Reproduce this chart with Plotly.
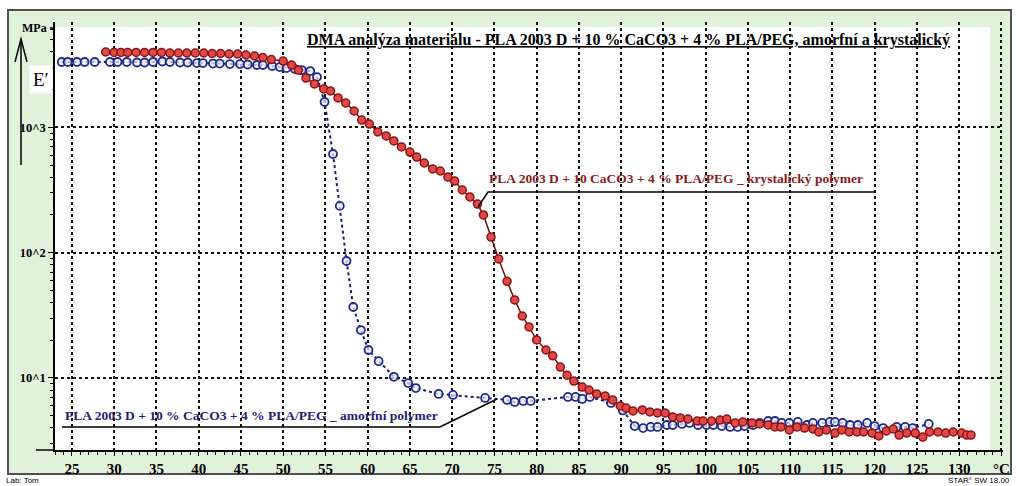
import plotly.graph_objects as go

# ---------------- data ----------------
red_T = [29.0, 30.0, 30.8, 31.6, 32.6, 33.6, 34.6, 35.6, 36.6, 37.6, 38.6, 39.6, 40.6, 41.6,
         42.6, 43.6, 44.6, 45.6, 46.6, 47.6, 48.6,
         50.0, 51.0, 51.8, 52.7, 53.7, 54.8, 55.6, 56.5, 57.4, 58.4, 59.3, 60.2, 61.2, 62.2,
         63.1, 64.0, 65.0, 65.8, 66.7, 67.7, 68.6, 69.5, 70.3, 71.2, 72.1, 73.0, 73.7, 74.6,
         75.5, 76.5, 77.4, 78.3, 79.1, 80.0, 81.1, 81.9, 82.8, 83.6, 84.4, 85.4, 86.2, 87.1,
         88.1, 89.0, 89.9, 90.6, 91.4, 92.5, 93.4, 94.3, 95.2, 96.1, 97.0, 97.9, 99.0, 99.7,
         100.7, 101.7, 102.5, 103.5, 104.4, 105.5, 106.4, 107.4, 108.2, 108.9, 109.9, 110.8,
         111.7, 112.7, 113.4, 114.3, 115.3, 116.1, 117.0, 117.9, 118.7, 119.7, 120.5, 121.4,
         122.2, 122.9, 123.8, 124.8, 125.7, 126.5, 127.5, 128.4, 129.3, 130.3, 130.9, 131.4]
red_E = [3990, 3955, 3955, 3955, 3955, 3955, 3955, 3955, 3917, 3917, 3917, 3917, 3917, 3881,
         3881, 3846, 3846, 3776, 3707, 3606, 3475,
         3381, 3141, 2864, 2472, 2218, 2023, 1950, 1714, 1563, 1349, 1143, 1062, 918, 853,
         778, 697, 635, 579, 519, 465, 448, 401, 372, 316, 278, 244, 200, 133,
         89, 59, 41.9, 31.2, 25.5, 20.1, 16.7, 15.0, 12.2, 10.5, 9.44, 8.45, 8.00, 7.45,
         7.18, 6.67, 5.97, 5.75, 5.45, 5.55, 5.35, 5.25, 5.25, 4.88, 4.79, 4.70, 4.53, 4.53,
         4.53, 4.61, 4.70, 4.37, 4.45, 4.37, 4.29, 4.21, 4.06, 4.06, 3.84, 4.06,
         3.98, 3.91, 3.70, 3.84, 3.63, 3.84, 3.70, 3.70, 3.70, 3.63, 3.44, 3.77,
         3.91, 3.50, 3.63, 3.63, 3.37, 3.70, 3.70, 3.63, 3.70, 3.63, 3.50, 3.50]

blue_T = [23.8, 24.5, 25.6, 26.5, 27.7, 29.5, 30.4, 31.5, 32.7, 33.6, 34.6, 35.7, 36.6, 37.8,
          38.7, 39.8, 40.5, 41.7, 42.5, 43.7, 44.9, 45.8, 46.9, 47.6, 48.7, 49.6, 50.4, 51.4,
          52.2, 53.2, 54.0, 54.9, 55.9, 56.7, 57.5, 58.3, 59.2, 60.1, 61.3, 63.1, 64.8, 65.7,
          68.4, 70.1, 73.9, 76.5, 77.4, 78.4, 79.3, 83.7, 84.6, 85.4, 86.3, 88.8, 90.2, 91.6,
          92.6, 93.5, 94.3, 95.4, 96.1, 97.2, 98.1, 99.1, 100.1, 100.9, 101.9, 102.9, 103.8,
          104.6, 105.6, 106.4, 107.4, 108.2, 109.0, 109.9, 110.9, 112.0, 112.7, 113.8, 114.7,
          115.3, 116.2, 117.1, 118.0, 119.1, 120.0, 121.0, 122.6, 123.6, 124.5, 126.4]
blue_E = [3319, 3319, 3319, 3319, 3319, 3319, 3319, 3319, 3289, 3289, 3319, 3350, 3319, 3289,
          3289, 3258, 3258, 3228, 3228, 3199, 3199, 3170, 3141, 3141, 3083, 3027, 2972, 2917,
          2864, 2812, 2518, 1592, 612, 236, 85.7, 36.8, 24.1, 16.7, 13.6, 10.2, 9.10, 8.30,
          7.45, 7.31, 6.92, 6.67, 6.43, 6.55, 6.55, 7.05, 7.05, 6.79, 7.05, 6.31, 5.50, 4.13,
          3.98, 4.06, 4.06, 4.21, 4.21, 4.29, 4.37, 4.21, 4.21, 4.21, 4.13, 4.06, 4.06,
          4.13, 4.21, 4.37, 4.53, 4.53, 4.37, 4.37, 4.45, 4.21, 4.37, 4.37, 4.45,
          4.45, 4.37, 4.21, 4.21, 4.37, 4.13, 3.98, 4.06, 4.06, 3.98, 4.29]

x_tick_vals = [25, 30, 35, 40, 45, 50, 55, 60, 65, 70, 75, 80, 85, 90, 95, 100, 105, 110,
               115, 120, 125, 130, 135]
x_tick_text = ["25", "30", "35", "40", "45", "50", "55", "60", "65", "70", "75", "80", "85",
               "90", "95", "100", "105", "110", "115", "120", "125", "130", "°C"]
y_tick_vals = [10, 100, 1000]
y_tick_text = ["10^1", "10^2", "10^3"]
y_minor_vals = [3, 4, 5, 6, 7, 8, 9, 20, 30, 40, 50, 60, 70, 80, 90,
                200, 300, 400, 500, 600, 700, 800, 900, 2000, 3000, 4000, 5000, 6000]

title_text = "DMA analýza materiálu - PLA 2003 D + 10 % CaCO3 + 4 % PLA/PEG, amorfní a krystalický"
red_name = "PLA 2003 D + 10 CaCO3 + 4 % PLA/PEG _ krystalický polymer"
blue_name = "PLA 2003 D + 10 % CaCO3 + 4 % PLA/PEG _ amorfní polymer"

# ---------------- layout helpers (pixel -> paper) ----------------
W, H = 1016, 486
L, R, T, B = 55, 13, 22, 36
PW, PH = W - L - R, H - T - B


def PX(x):
    return (x - L) / PW


def PY(y):
    return (H - B - y) / PH


SERIF = "Liberation Serif"
GREEN = "#e0f3da"
RED_TXT = "#8b1a1a"
BLUE_TXT = "#1e1e78"

fig = go.Figure()

fig.add_trace(go.Scatter(
    x=blue_T, y=blue_E, mode="lines+markers", name=blue_name,
    line=dict(color="#1c1c70", width=2, dash="dot"),
    marker=dict(symbol="circle", size=8, color="rgba(235,238,255,0.7)",
                line=dict(color="#1f2a8a", width=1.8)),
))
fig.add_trace(go.Scatter(
    x=red_T, y=red_E, mode="lines+markers", name=red_name,
    line=dict(color="#6e0f0f", width=1.5),
    marker=dict(symbol="circle", size=8, color="#dd4a4a",
                line=dict(color="#931010", width=1.5)),
))

shapes = [
    # outer green frame
    dict(type="rect", xref="paper", yref="paper", layer="below",
         x0=PX(8), x1=PX(1011), y0=PY(474), y1=PY(10),
         fillcolor=GREEN, line=dict(color="#505050", width=2)),
    # white plotting region
    dict(type="rect", xref="paper", yref="paper", layer="below",
         x0=PX(55), x1=PX(990), y0=PY(450), y1=PY(27),
         fillcolor="white", line=dict(width=0)),
    # x axis extension to the left
    dict(type="line", xref="paper", yref="paper", x0=PX(36), x1=PX(55), y0=PY(450), y1=PY(450),
         line=dict(color="black", width=1.5)),
    # MPa tick
    dict(type="line", xref="paper", yref="paper", x0=PX(50), x1=PX(55), y0=PY(28), y1=PY(28),
         line=dict(color="black", width=1.5)),
    # E' arrow shaft and head
    dict(type="line", xref="paper", yref="paper", x0=PX(21), x1=PX(21), y0=PY(165), y1=PY(40),
         line=dict(color="black", width=1.5)),
    dict(type="path", xref="paper", yref="paper",
         path=f"M {PX(15)},{PY(62)} L {PX(21)},{PY(39)} L {PX(27)},{PY(62)}",
         line=dict(color="black", width=1.5)),
    # red leader
    dict(type="path", xref="paper", yref="paper",
         path=f"M {PX(478)},{PY(207)} L {PX(488)},{PY(192)} L {PX(875)},{PY(192)}",
         line=dict(color="black", width=1.5)),
    # blue leader
    dict(type="path", xref="paper", yref="paper",
         path=f"M {PX(62)},{PY(427)} L {PX(440)},{PY(427)} L {PX(497)},{PY(399)}",
         line=dict(color="black", width=1.5)),
]

annotations = [
    dict(xref="paper", yref="paper", x=PX(628), y=PY(40), xanchor="center", yanchor="middle",
         text=f"<b><u>{title_text}</u></b>", showarrow=False,
         font=dict(family=SERIF, size=16, color="black")),
    dict(xref="paper", yref="paper", x=PX(676), y=PY(178), xanchor="center", yanchor="middle",
         text=f"<b>{red_name}</b>", showarrow=False,
         font=dict(family=SERIF, size=13.5, color=RED_TXT)),
    dict(xref="paper", yref="paper", x=PX(251), y=PY(415), xanchor="center", yanchor="middle",
         text=f"<b>{blue_name}</b>", showarrow=False,
         font=dict(family=SERIF, size=13.5, color=BLUE_TXT)),
    dict(xref="paper", yref="paper", x=PX(49), y=PY(28), xanchor="right", yanchor="middle",
         text="<b>MPa</b>", showarrow=False, font=dict(family=SERIF, size=12, color="black")),
    dict(xref="paper", yref="paper", x=PX(41), y=PY(80), xanchor="center", yanchor="middle",
         text="E′", showarrow=False, bgcolor="white", borderpad=3,
         font=dict(family=SERIF, size=19, color="black")),
    dict(xref="paper", yref="paper", x=PX(4), y=PY(480), xanchor="left", yanchor="middle",
         text="Lab: Tom", showarrow=False, font=dict(family="Liberation Sans", size=8, color="black")),
    dict(xref="paper", yref="paper", x=PX(1012), y=PY(480), xanchor="right", yanchor="middle",
         text="STAR° SW 18.00", showarrow=False,
         font=dict(family="Liberation Sans", size=8, color="black")),
]

fig.update_layout(
    width=W, height=H,
    margin=dict(l=L, r=R, t=T, b=B),
    paper_bgcolor="white",
    plot_bgcolor="rgba(0,0,0,0)",
    showlegend=False,
    shapes=shapes,
    annotations=annotations,
    xaxis=dict(
        range=[23.0, 23.0 + PW / 8.45],
        tickmode="array", tickvals=x_tick_vals, ticktext=x_tick_text,
        ticks="outside", ticklen=4, tickwidth=1.2, tickcolor="black",
        showline=True, linecolor="black", linewidth=1.5,
        showgrid=True, gridcolor="#111111", gridwidth=1.5, griddash="dot",
        zeroline=False, automargin=False,
        tickfont=dict(family=SERIF, size=15, color="black", weight="bold"),
        minor=dict(tickmode="linear", tick0=0, dtick=1, ticks="outside", ticklen=3,
                   tickcolor="black", showgrid=False),
    ),
    yaxis=dict(
        type="log",
        range=[4.016 - 450 / 125.3, 4.016 - 22 / 125.3],
        tickmode="array", tickvals=y_tick_vals, ticktext=y_tick_text,
        ticks="outside", ticklen=5, tickwidth=1.2, tickcolor="black",
        showline=True, linecolor="black", linewidth=1.5,
        showgrid=True, gridcolor="#111111", gridwidth=1.5, griddash="dot",
        zeroline=False, automargin=False,
        tickfont=dict(family=SERIF, size=12.5, color="black", weight="bold"),
        minor=dict(tickmode="array", tickvals=y_minor_vals, ticks="outside", ticklen=3,
                   tickcolor="black", showgrid=False),
    ),
)

fig.write_html(
    "out.html",
    config={"displayModeBar": False},
    post_script="document.body.style.margin='0px';document.body.style.overflow='hidden';",
)
